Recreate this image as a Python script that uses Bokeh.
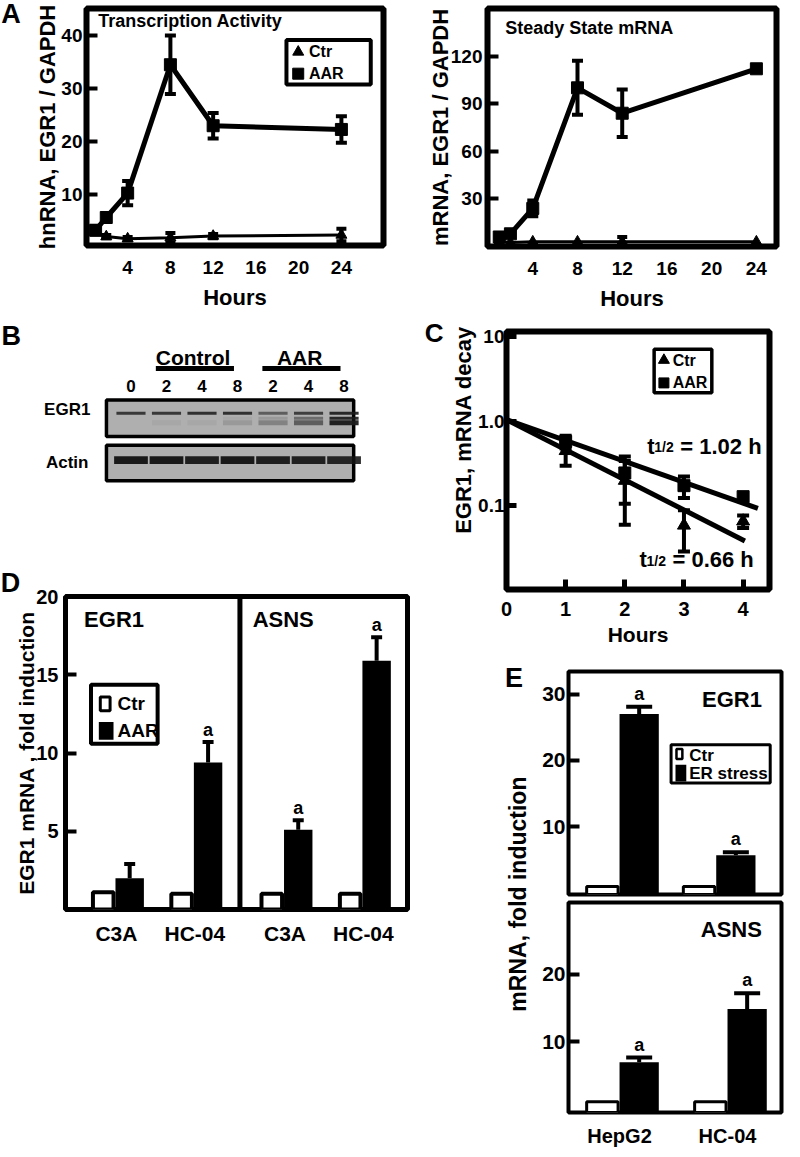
import math
from bokeh.plotting import figure
from bokeh.layouts import row, column
from bokeh.models import Range1d, FixedTicker, ColumnDataSource, Whisker, TeeHead, Label, Span
from bokeh.core.properties import value
from bokeh.embed import file_html
from bokeh.resources import INLINE

# ------------------------------------------------------------------ data
# Panel A (left): transcription activity (hnRNA EGR1 / GAPDH)
a_hours = [1, 2, 4, 8, 12, 24]
a_hn_ctr = [3.0, 2.0, 1.6, 1.8, 2.1, 2.3]
a_hn_ctr_err = [0.3, 0.3, 0.3, 0.9, 0.4, 1.2]
a_hn_aar = [3.2, 5.6, 10.2, 34.4, 22.9, 22.2]
a_hn_aar_err = [0.8, 0.8, 2.3, 5.5, 2.4, 2.5]
# Panel A (right): steady state mRNA (EGR1 / GAPDH)
a_m_ctr = [3.0, 2.5, 3.0, 3.0, 3.0, 3.0]
a_m_ctr_err = [0, 0, 0, 0, 3.0, 0]
a_m_aar = [6, 8, 24, 100, 84, 112]
a_m_aar_err = [1.0, 1.5, 5.0, 17.0, 15.0, 0]
a_xticks = [4, 8, 12, 16, 20, 24]
a_hn_yticks = [10, 20, 30, 40]
a_m_yticks = [30, 60, 90, 120]

# Panel B: western blot (band intensities 0..1 per lane)
b_lanes = ["0", "2", "4", "8", "2", "4", "8"]
b_groups = ["Control", "AAR"]
b_group_lanes = [(1, 3), (4, 6)]
b_rows = ["EGR1", "Actin"]
b_egr1_upper = [0.80, 0.80, 0.85, 0.85, 0.55, 0.75, 0.90]
b_egr1_mid = [0.00, 0.00, 0.00, 0.05, 0.15, 0.45, 0.90]
b_egr1_lower = [0.00, 0.05, 0.05, 0.15, 0.30, 0.55, 0.95]
b_actin = [0.95, 0.95, 0.92, 0.95, 0.92, 0.90, 0.88]

# Panel C: mRNA decay (log scale)
c_hours = [1, 2, 3, 4]
c_ctr = [0.45, 0.20, 0.059, 0.066]
c_ctr_err = [0.15, 0.14, 0.03, 0.011]
c_aar = [0.58, 0.246, 0.174, 0.129]
c_aar_err = [0.10, 0.14, 0.05, 0.0]
c_fit_y0 = [1.05, 1.05]            # Ctr, AAR
c_fit_slope = [-0.356, -0.247]     # log10 units per hour
c_fit_end = [4.03, 4.25]
c_half_life = ["0.66", "1.02"]
c_xticks = [0, 1, 2, 3, 4]
c_yticks = [0.1, 1, 10]
c_ytick_labels = ["0.1", "1.0", "10"]

# Panel D: fold induction, AAR
d_genes = ["EGR1", "EGR1", "ASNS", "ASNS"]
d_cells = ["C3A", "HC-04", "C3A", "HC-04"]
d_ctr = [1.1, 1.0, 1.0, 1.0]
d_aar = [2.0, 9.4, 5.1, 15.9]
d_aar_err = [0.9, 1.3, 0.6, 1.5]
d_sig = ["", "a", "a", "a"]
d_yticks = [5, 10, 15, 20]

# Panel E: fold induction, ER stress
e_cells = ["HepG2", "HC-04"]
e_egr1_ctr = [1.0, 1.0]
e_egr1_er = [27.0, 5.7]
e_egr1_er_err = [1.1, 0.45]
e_asns_ctr = [1.0, 1.0]
e_asns_er = [6.9, 14.85]
e_asns_er_err = [0.7, 2.35]
e_sig = ["a", "a"]
e_top_yticks = [10, 20, 30]
e_bot_yticks = [10, 20]

# ------------------------------------------------------------------ helpers
FONT = "Liberation Sans"
SX = 784 / 800
SY = 1141 / 1157
NBSP = "\u00a0"


def X(v):
    return int(round(v * SX))


def Y(v):
    return int(round(v * SY))


class Panel:
    def __init__(self, box, frame, xr, yr, ylog=False, xaxis=True, yaxis=True, outline=0):
        L, T, R, B = box
        fl, ft, fr, fb = frame
        self.frame, self.xr, self.yr, self.ylog = frame, xr, yr, ylog
        p = figure(width=X(R) - X(L), height=Y(B) - Y(T),
                   x_range=Range1d(*xr), y_range=Range1d(*yr),
                   y_axis_type="log" if ylog else "linear",
                   x_axis_location="below" if xaxis else None,
                   y_axis_location="left" if yaxis else None,
                   min_border_left=X(fl) - X(L), min_border_right=X(R) - X(fr),
                   min_border_top=Y(ft) - Y(T), min_border_bottom=Y(B) - Y(fb),
                   output_backend="svg", toolbar_location=None, tools="")
        p.frame_align = False
        p.grid.visible = False
        p.background_fill_color = "white"
        p.border_fill_color = "white"
        if outline:
            p.outline_line_color = "black"
            p.outline_line_width = outline
        else:
            p.outline_line_color = None
        self.p = p

    def fx(self, px):
        fl, ft, fr, fb = self.frame
        return self.xr[0] + (px - fl) / (fr - fl) * (self.xr[1] - self.xr[0])

    def fy(self, py):
        fl, ft, fr, fb = self.frame
        t = (fb - py) / (fb - ft)
        if self.ylog:
            a, b = math.log10(self.yr[0]), math.log10(self.yr[1])
            return 10 ** (a + t * (b - a))
        return self.yr[0] + t * (self.yr[1] - self.yr[0])

    def ux(self, w):
        fl, ft, fr, fb = self.frame
        return w / (fr - fl) * (self.xr[1] - self.xr[0])


def axis_style(ax, ticks, size, standoff, tick_in=0, tick_w=4, label=None,
               lsize=21, lstand=5, overrides=None):
    ax.ticker = FixedTicker(ticks=ticks)
    ax.axis_line_color = None
    ax.major_tick_in = tick_in
    ax.major_tick_out = 0
    ax.minor_tick_in = 0
    ax.minor_tick_out = 0
    ax.major_tick_line_width = tick_w
    ax.major_tick_line_color = "black" if tick_in else None
    ax.minor_tick_line_color = None
    ax.major_label_text_font = FONT
    ax.major_label_text_font_style = "bold"
    ax.major_label_text_font_size = f"{size}px"
    ax.major_label_text_color = "black"
    ax.major_label_standoff = standoff
    if overrides:
        ax.major_label_overrides = overrides
    if label is not None:
        ax.axis_label = label
        ax.axis_label_text_font = FONT
        ax.axis_label_text_font_style = "bold"
        ax.axis_label_text_font_size = f"{lsize}px"
        ax.axis_label_text_color = "black"
        ax.axis_label_standoff = lstand


def txt(p, x, y, s, size, align="left", baseline="middle", angle=0.0, xo=0, yo=0):
    p.text(x=[x], y=[y], text=[s], text_font=value(FONT), text_font_size=value(f"{size}px"),
           text_font_style=value("bold"), text_align=value(align),
           text_baseline=value(baseline), angle=angle, x_offset=xo, y_offset=yo,
           text_color="black")


def letter(p, x, y, s, side, size=27):
    # panel letter, placed in a side panel so that it is not clipped by the frame
    p.add_layout(Label(x=x, y=y, text=s, text_font=FONT, text_font_size=f"{size}px",
                       text_font_style="bold", text_align="center", text_baseline="middle",
                       text_color="black"), side)


def whiskers(p, xs, vals, errs, cap, lw=4, both=True):
    xb, lo, hi = [], [], []
    for x, v, e in zip(xs, vals, errs):
        if e > 0:
            xb.append(x)
            hi.append(v + e)
            lo.append(v - e if both else v)
    if not xb:
        return
    src = ColumnDataSource(dict(base=xb, lower=lo, upper=hi))

    def head():
        return TeeHead(size=cap, line_width=lw, line_color="black")
    p.add_layout(Whisker(source=src, base="base", lower="lower", upper="upper",
                         line_width=lw, line_color="black",
                         upper_head=head(), lower_head=head() if both else None))


def box(pn, l, r, t, b, lw, fill="white"):
    pn.p.quad(left=[pn.fx(l)], right=[pn.fx(r)], top=[pn.fy(t)], bottom=[pn.fy(b)],
              fill_color=fill, line_color="black" if lw else None, line_width=lw if lw else 1)


ROW1_BOTTOM = 318

# ------------------------------------------------------------------ Panel A left
A1 = Panel((0, 0, 400, ROW1_BOTTOM), (88, 8, 391, 248), (0.15, 27.94), (0.32, 45.0), outline=6)
p = A1.p
axis_style(p.xaxis[0], a_xticks, 19, 15, label="Hours", lsize=22, lstand=8)
axis_style(p.yaxis[0], a_hn_yticks, 19, 4, tick_in=11, label="hnRNA, EGR1 / GAPDH", lsize=22, lstand=-2)
p.line(a_hours, a_hn_ctr, line_width=3, line_color="black")
p.line(a_hours, a_hn_aar, line_width=5, line_color="black")
p.scatter(a_hours, a_hn_ctr, marker="triangle", size=11, color="black")
p.scatter(a_hours, a_hn_aar, marker="square", size=12, color="black")
whiskers(p, a_hours, a_hn_ctr, a_hn_ctr_err, cap=10)
whiskers(p, a_hours, a_hn_aar, a_hn_aar_err, cap=11)
txt(p, A1.fx(100), A1.fy(21), "Transcription Activity", 18)
box(A1, 292, 378, 40, 85, 4)
p.scatter([A1.fx(304)], [A1.fy(52)], marker="triangle", size=11, color="black")
p.scatter([A1.fx(304)], [A1.fy(74)], marker="square", size=11, color="black")
txt(p, A1.fx(315), A1.fy(52), "Ctr", 16)
txt(p, A1.fx(315), A1.fy(74), "AAR", 16)
letter(p, A1.fx(11), A1.fy(14), "A", "left")

# ------------------------------------------------------------------ Panel A right
A2 = Panel((400, 0, 800, ROW1_BOTTOM), (497, 8, 792, 249), (-0.05, 25.8), (0, 150), outline=6)
p = A2.p
axis_style(p.xaxis[0], a_xticks, 19, 15, label="Hours", lsize=22, lstand=8)
axis_style(p.yaxis[0], a_m_yticks, 19, 5, tick_in=11, label="mRNA, EGR1 / GAPDH", lsize=22, lstand=-5)
p.line(a_hours, a_m_ctr, line_width=3, line_color="black")
p.line(a_hours, a_m_aar, line_width=5, line_color="black")
p.scatter(a_hours, a_m_ctr, marker="triangle", size=11, color="black")
p.scatter(a_hours, a_m_aar, marker="square", size=12, color="black")
whiskers(p, a_hours, a_m_ctr, a_m_ctr_err, cap=10)
whiskers(p, a_hours, a_m_aar, a_m_aar_err, cap=11)
txt(p, A2.fx(515), A2.fy(28), "Steady State mRNA", 18)

# ------------------------------------------------------------------ Panel B (blot)
def lane_x(px):
    return (px - 133) / 36.2


PB = figure(width=X(422) - X(0), height=Y(500) - Y(ROW1_BOTTOM),
            x_range=Range1d(lane_x(0), lane_x(422)), y_range=Range1d(182, ROW1_BOTTOM - 318),
            x_axis_location=None, y_axis_location=None, min_border=0,
            output_backend="svg", toolbar_location=None, tools="")
PB.frame_align = False
PB.outline_line_color = None
PB.grid.visible = False
lanes = list(range(len(b_lanes)))
PB.quad(left=[lane_x(108)] * 2, right=[lane_x(360)] * 2, top=[87, 133], bottom=[124, 169],
        fill_color="#afafaf", line_color="black", line_width=3.5)
PB.rect(x=lanes, y=[100.5] * len(lanes), width=0.82, height=3, fill_color="#1a1a1a",
        fill_alpha=b_egr1_upper, line_color=None)
PB.rect(x=lanes, y=[105.5] * len(lanes), width=0.82, height=3, fill_color="#1a1a1a",
        fill_alpha=b_egr1_mid, line_color=None)
PB.rect(x=lanes, y=[110] * len(lanes), width=0.82, height=5, fill_color="#1a1a1a",
        fill_alpha=b_egr1_lower, line_color=None)
PB.rect(x=lanes, y=[148] * len(lanes), width=0.95, height=8, fill_color="#111111",
        fill_alpha=b_actin, line_color=None)
PB.text(x=lanes, y=[73] * len(lanes), text=b_lanes, text_font=value(FONT),
        text_font_size=value("17px"), text_font_style=value("bold"),
        text_align=value("center"), text_baseline=value("middle"), text_color="black")
for g, (l0, l1) in zip(b_groups, b_group_lanes):
    txt(PB, (l0 + l1) / 2 - 0.25, 44, g, 21, align="center")
    PB.segment(x0=[l0 - 0.3], x1=[l1 - 0.1], y0=[55], y1=[55], line_width=5, line_color="black")
txt(PB, lane_x(68), 97, b_rows[0], 17, align="center")
txt(PB, lane_x(68), 150, b_rows[1], 17, align="center")
txt(PB, lane_x(11), 22, "B", 27, align="center")

# ------------------------------------------------------------------ Panel C
C = Panel((422, ROW1_BOTTOM, 800, 660), (516, 336, 785, 597), (0, 4.446), (0.01028, 11.6),
          ylog=True, outline=6)
p = C.p
axis_style(p.xaxis[0], c_xticks, 20, 12, tick_in=10, tick_w=5, label="Hours", lsize=21, lstand=4)
# leading no-break spaces lift the label towards the top of the frame, as in the original
axis_style(p.yaxis[0], c_yticks, 19, 2, tick_in=10, tick_w=5,
           label=NBSP * 10 + "EGR1, mRNA decay",
           lsize=22, lstand=-1, overrides=dict(zip(c_yticks, c_ytick_labels)))
for y0, k, x1 in zip(c_fit_y0, c_fit_slope, c_fit_end):
    p.line([0, x1], [y0, y0 * 10 ** (k * x1)], line_width=5, line_color="black")
p.scatter(c_hours, c_ctr, marker="triangle", size=13, color="black")
p.scatter(c_hours, c_aar, marker="square", size=12, color="black")
whiskers(p, c_hours, c_ctr, c_ctr_err, cap=12)
whiskers(p, c_hours, c_aar, c_aar_err, cap=12)
for hl, (lx, ly) in zip(c_half_life, [(652, 567), (660, 452)]):
    txt(p, C.fx(lx), C.fy(ly), "t", 22)
    txt(p, C.fx(lx), C.fy(ly), "1/2", 14, xo=7, yo=1)
    txt(p, C.fx(lx), C.fy(ly), f"= {hl} h", 22, xo=33)
box(C, 667, 726, 354, 398, 3.5)
p.scatter([C.fx(677)], [C.fy(365)], marker="triangle", size=11, color="black")
p.scatter([C.fx(677)], [C.fy(388)], marker="square", size=10, color="black")
txt(p, C.fx(686), C.fy(365), "Ctr", 16)
txt(p, C.fx(686), C.fy(388), "AAR", 16)
letter(p, C.fx(442), C.fy(338), "C", "left", size=26)

# ------------------------------------------------------------------ Panel D
gene_order = list(dict.fromkeys(d_genes))
d_x = [i + 0.15 * gene_order.index(g) for i, g in enumerate(d_genes)]
D = Panel((0, 500, 422, 960), (66, 604, 415, 923), ((66 - 118) / 80, (415 - 118) / 80), (0, 20),
          outline=5)
p = D.p
axis_style(p.xaxis[0], d_x, 21, 12, overrides=dict(zip(d_x, d_cells)))
axis_style(p.yaxis[0], d_yticks, 20, 7, tick_in=11, label="EGR1 mRNA , fold induction",
           lsize=21, lstand=-5)
ctr_x = [x - D.ux(13.5) for x in d_x]
aar_x = [x + D.ux(13.5) for x in d_x]
p.vbar(x=ctr_x, top=d_ctr, bottom=0, width=D.ux(21), fill_color="white",
       line_color="black", line_width=4)
p.vbar(x=aar_x, top=d_aar, bottom=0, width=D.ux(29), fill_color="black", line_color=None)
whiskers(p, aar_x, d_aar, d_aar_err, cap=11, both=False)
for x, v, e, s in zip(aar_x, d_aar, d_aar_err, d_sig):
    if s:
        txt(p, x, v + e, s, 18, align="center", baseline="alphabetic", yo=-12)
p.add_layout(Span(location=(d_x[1] + d_x[2]) / 2, dimension="height", line_width=5,
                  line_color="black"))
txt(p, D.fx(85), D.fy(627), gene_order[0], 22)
txt(p, D.fx(257), D.fy(627), gene_order[1], 22)
box(D, 92, 160, 694, 754, 4)
box(D, 101.5, 111.5, 706.5, 720.5, 3)
box(D, 100, 115, 732, 750, 0, fill="black")
txt(p, D.fx(119), D.fy(713), "Ctr", 19)
txt(p, D.fx(119), D.fy(741), "AAR", 19)
letter(p, D.fx(10), D.fy(590), "D", "above")

# ------------------------------------------------------------------ Panel E
e_x = list(range(len(e_cells)))


def e_bars(pn, ctr, er, err, yr0):
    pp = pn.p
    cx = [x - pn.ux(17.5) for x in e_x]
    ex = [x + pn.ux(20) for x in e_x]
    pp.vbar(x=cx, top=ctr, bottom=yr0, width=pn.ux(32), fill_color="white",
            line_color="black", line_width=3)
    pp.vbar(x=ex, top=er, bottom=yr0, width=pn.ux(40), fill_color="black", line_color=None)
    whiskers(pp, ex, er, err, cap=26, both=False)
    for x, v, e, s in zip(ex, er, err, e_sig):
        txt(pp, x, v + e, s, 18, align="center", baseline="alphabetic", yo=-13)


E_TOP = 660
E1 = Panel((548, E_TOP, 800, 911), (580, 680, 797, 907), ((580 - 632) / 98.5, (797 - 632) / 98.5),
           (-0.22, 33.4), xaxis=False, outline=4)
p = E1.p
axis_style(p.yaxis[0], e_top_yticks, 21, 3, tick_in=11)
e_bars(E1, e_egr1_ctr, e_egr1_er, e_egr1_er_err, -0.22)
txt(p, E1.fx(777), E1.fy(708), "EGR1", 22, align="right")
box(E1, 684.5, 785.5, 754.5, 793.5, 3)
box(E1, 690, 696, 759, 769, 2.5)
box(E1, 689, 700, 775, 792, 0, fill="black")
txt(p, E1.fx(703), E1.fy(765), "Ctr", 17)
txt(p, E1.fx(703), E1.fy(784), "ER stress", 17)

E2 = Panel((548, 911, 800, 1165), (580, 915, 797, 1128), ((580 - 632) / 110, (797 - 632) / 110),
           (-0.59, 30.74), outline=4)
p = E2.p
axis_style(p.xaxis[0], e_x, 20, 12, overrides=dict(zip(e_x, e_cells)))
axis_style(p.yaxis[0], e_bot_yticks, 21, 3, tick_in=11)
e_bars(E2, e_asns_ctr, e_asns_er, e_asns_er_err, -0.59)
txt(p, E2.fx(777), E2.fy(942), "ASNS", 22, align="right")

EL = figure(width=X(548) - X(422), height=Y(1165) - Y(E_TOP),
            x_range=Range1d(422, 548), y_range=Range1d(1165, E_TOP),
            x_axis_location=None, y_axis_location=None, min_border=0,
            output_backend="svg", toolbar_location=None, tools="")
EL.frame_align = False
EL.outline_line_color = None
EL.grid.visible = False
txt(EL, 528, 906, "mRNA, fold induction", 23, align="center", angle=math.pi / 2)
txt(EL, 524, 687, "E", 27, align="center")

# ------------------------------------------------------------------ layout
layout = column(
    row(A1.p, A2.p),
    row(column(PB, D.p), column(C.p, row(EL, column(E1.p, E2.p)))),
)
open("out.html", "w").write(file_html(layout, INLINE, title="EGR1"))
